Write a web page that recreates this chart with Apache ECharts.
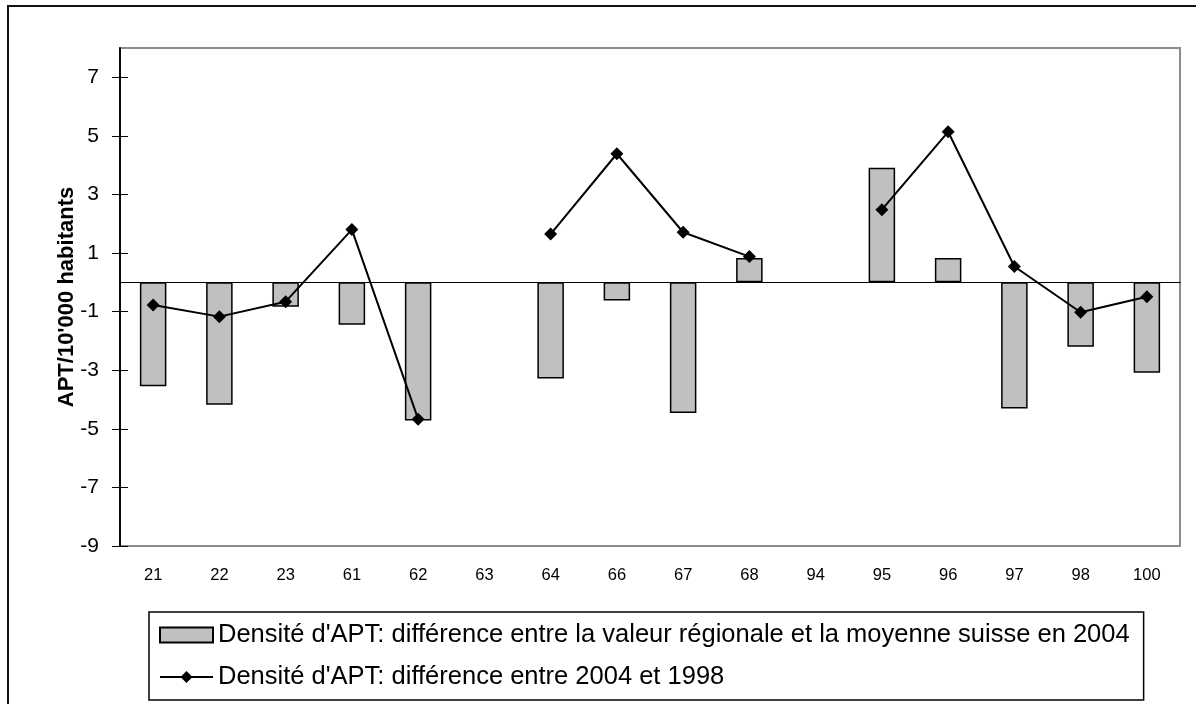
<!DOCTYPE html>
<html>
<head>
<meta charset="utf-8">
<script src="https://cdn.jsdelivr.net/npm/echarts@6/dist/echarts.min.js"></script>
<style>
    html, body { margin: 0; padding: 0; background: #fff; }
    #chart { width: 1196px; height: 704px; }
</style>
</head>
<body>
<div id="chart"></div>
<script>
// regions (x axis)
const categories = ['21', '22', '23', '61', '62', '63', '64', '66', '67', '68', '94', '95', '96', '97', '98', '100'];
// bars: regional value minus swiss mean, 2004
const ecart2004 = [-3.55, -4.18, -0.83, -1.45, -4.72, null, -3.28, -0.62, -4.46, 0.83, null, 3.91, 0.83, -4.31, -2.2, -3.09];
// line: change between 1998 and 2004
const evolution = [-0.77, -1.17, -0.66, 1.8, -4.67, null, 1.65, 4.39, 1.71, 0.88, null, 2.48, 5.14, 0.54, -1.02, -0.49];
const yTicks = [-9, -7, -5, -3, -1, 1, 3, 5, 7];

const nomBarres = "Densité d'APT: différence entre la valeur régionale et la moyenne suisse en 2004";
const nomLigne = "Densité d'APT: différence entre 2004 et 1998";

const font = 'Liberation Sans, Arial, sans-serif';
const chart = echarts.init(document.getElementById('chart'));

chart.setOption({
    animation: false,
    textStyle: { fontFamily: font, color: '#000' },
    graphic: [{
        type: 'rect',
        silent: true,
        shape: { x: 8, y: 6, width: 1210, height: 730 },
        style: { fill: 'none', stroke: '#111', lineWidth: 2 }
    }],
    grid: {
        left: 120,
        top: 48,
        right: 16,
        bottom: 158,
        show: true,
        borderColor: '#8c8c8c',
        borderWidth: 2
    },
    legend: {
        orient: 'vertical',
        left: 149,
        top: 612,
        padding: [9, 14, 9, 10],
        borderColor: '#000',
        borderWidth: 1.5,
        itemWidth: 53,
        itemHeight: 15,
        itemGap: 14,
        textStyle: { fontFamily: font, fontSize: 25.5, color: '#000', lineHeight: 28 },
        data: [{ name: nomBarres, icon: 'rect' }, { name: nomLigne }]
    },
    xAxis: [
        {
            // labels at the bottom
            type: 'category',
            data: categories,
            position: 'bottom',
            axisLine: { show: false, onZero: false },
            axisTick: { show: false },
            axisLabel: { fontSize: 16.5, color: '#000', margin: 21, interval: 0 }
        },
        {
            // line through zero, ticks downward
            type: 'category',
            data: categories,
            position: 'bottom',
            axisLine: { onZero: true, onZeroAxisIndex: 0, lineStyle: { color: '#000', width: 1 } },
            axisTick: { length: 7, interval: 0, lineStyle: { color: '#000' } },
            axisLabel: { show: false }
        },
        {
            // same line, ticks upward
            type: 'category',
            data: categories,
            position: 'top',
            axisLine: { onZero: true, onZeroAxisIndex: 0, lineStyle: { color: '#000', width: 1 } },
            axisTick: { length: 7, interval: 0, lineStyle: { color: '#000' } },
            axisLabel: { show: false }
        }
    ],
    yAxis: [
        {
            type: 'value',
            min: -9,
            max: 8,
            name: "APT/10'000 habitants",
            nameLocation: 'middle',
            nameGap: 42,
            nameMoveOverlap: false,
            nameTextStyle: { fontFamily: font, fontSize: 22, fontWeight: 'bold', color: '#000' },
            axisLine: { show: true, lineStyle: { color: '#000', width: 1.5 } },
            axisTick: { show: true, length: 8, customValues: yTicks, lineStyle: { color: '#000' } },
            axisLabel: { fontSize: 21, color: '#000', margin: 21, customValues: yTicks },
            splitLine: { show: false }
        },
        {
            type: 'value',
            min: -9,
            max: 8,
            position: 'left',
            axisLine: { show: true, lineStyle: { color: '#000', width: 1.5 } },
            axisTick: { show: true, inside: true, length: 8, customValues: yTicks, lineStyle: { color: '#000' } },
            axisLabel: { show: false },
            splitLine: { show: false }
        }
    ],
    series: [
        {
            name: nomBarres,
            type: 'bar',
            data: ecart2004,
            barWidth: '40%',
            itemStyle: { color: '#c0c0c0', borderColor: '#000', borderWidth: 1.5 }
        },
        {
            name: nomLigne,
            type: 'line',
            data: evolution,
            connectNulls: false,
            symbol: 'diamond',
            symbolSize: 13,
            lineStyle: { color: '#000', width: 2 },
            itemStyle: { color: '#000' }
        }
    ]
});
</script>
</body>
</html>
